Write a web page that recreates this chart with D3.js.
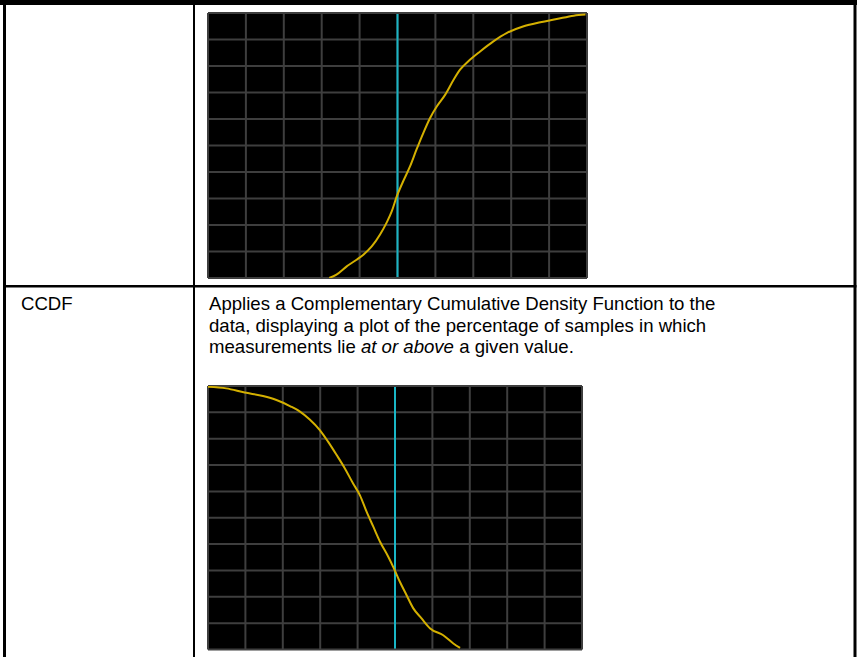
<!DOCTYPE html>
<html><head><meta charset="utf-8">
<script src="https://cdn.jsdelivr.net/npm/d3@7/dist/d3.min.js"></script>
<style>html,body{margin:0;padding:0;background:#fff;overflow:hidden}svg{display:block}</style>
</head><body>
<script>
// ---- data ----
const gridTicks = [0,1,2,3,4,5,6,7,8,9,10];
const markerX = 5;
const cdfX = [3.2,3.39,3.66,3.92,4.1,4.32,4.54,4.71,4.85,4.98,5.15,5.33,5.5,5.68,5.86,6.04,6.26,6.48,6.65,6.87,7.18,7.53,7.89,8.33,8.77,9.2,9.65,9.96];
const cdfY = [0,0.13,0.44,0.69,0.88,1.19,1.64,2.08,2.52,3.08,3.65,4.21,4.84,5.47,6.04,6.48,6.92,7.48,7.86,8.18,8.55,8.93,9.25,9.5,9.65,9.77,9.9,9.94];
const ccdfX = [0,0.49,0.98,1.47,1.83,2.19,2.46,2.72,2.99,3.21,3.44,3.66,3.88,4.06,4.24,4.42,4.6,4.82,4.97,5.13,5.31,5.49,5.71,5.94,6.29,6.56,6.74];
const ccdfY = [9.97,9.91,9.75,9.62,9.47,9.24,9.03,8.73,8.33,7.89,7.38,6.87,6.3,5.86,5.23,4.66,4.09,3.52,3.08,2.57,2.06,1.56,1.18,0.8,0.54,0.23,0.06];
const rowLabels = ["", "CCDF"];
const descLine1 = "Applies a Complementary Cumulative Density Function to the";
const descLine2 = "data, displaying a plot of the percentage of samples in which";
const descLine3 = [["measurements lie ", false], ["at or above", true], [" a given value.", false]];

// ---- drawing ----
const W = 859, H = 657;
const svg = d3.select("body").append("svg").attr("width", W).attr("height", H);
svg.append("rect").attr("width", W).attr("height", H).attr("fill", "#fff");

const FONT = "Arial, 'Liberation Sans', sans-serif";
const FS = 18.6;

function panel(box, xs, ys, id) {
  const x = d3.scaleLinear().domain([0, 10]).range([box.x0, box.x1]);
  const y = d3.scaleLinear().domain([0, 10]).range([box.y1, box.y0]);
  const g = svg.append("g");
  g.append("rect").attr("x", box.x0).attr("y", box.y0)
    .attr("width", box.x1 - box.x0).attr("height", box.y1 - box.y0).attr("fill", "#000");
  g.selectAll(".v").data(gridTicks).join("line")
    .attr("x1", d => x(d)).attr("x2", d => x(d)).attr("y1", box.y0).attr("y2", box.y1)
    .attr("stroke", "#3e3e3e").attr("stroke-width", 2);
  g.selectAll(".h").data(gridTicks).join("line")
    .attr("y1", d => y(d)).attr("y2", d => y(d)).attr("x1", box.x0).attr("x2", box.x1)
    .attr("stroke", "#3e3e3e").attr("stroke-width", 2);
  g.append("line").attr("x1", x(markerX)).attr("x2", x(markerX))
    .attr("y1", box.y0 + 1).attr("y2", box.y1 - 1)
    .attr("stroke", "#19b5c5").attr("stroke-width", 2);
  svg.append("clipPath").attr("id", id).append("rect")
    .attr("x", box.x0).attr("y", box.y0).attr("width", box.x1 - box.x0).attr("height", box.y1 - box.y0);
  const pts = xs.map((v, i) => [v, ys[i]]);
  g.append("path").datum(pts)
    .attr("d", d3.line().x(d => x(d[0])).y(d => y(d[1])).curve(d3.curveMonotoneX))
    .attr("fill", "none").attr("stroke", "#d4b000").attr("stroke-width", 2)
    .attr("clip-path", `url(#${id})`);
}

panel({x0: 208, x1: 587, y0: 13, y1: 278}, cdfX, cdfY, "c1");
panel({x0: 208, x1: 582, y0: 386, y1: 649.5}, ccdfX, ccdfY, "c2");

// table borders
const blk = "#000";
svg.append("rect").attr("x", 0).attr("y", 0).attr("width", 857).attr("height", 5).attr("fill", blk);
svg.append("rect").attr("x", 3).attr("y", 0).attr("width", 3).attr("height", H).attr("fill", blk);
svg.append("rect").attr("x", 193).attr("y", 0).attr("width", 2).attr("height", H).attr("fill", blk);
svg.append("rect").attr("x", 853.5).attr("y", 0).attr("width", 3).attr("height", H).attr("fill", blk);
svg.append("rect").attr("x", 3).attr("y", 285).attr("width", 853.5).attr("height", 2.5).attr("fill", blk);

// text
svg.append("text").attr("x", 21).attr("y", 310).attr("font-family", FONT).attr("font-size", FS)
  .attr("fill", "#000").text(rowLabels[1]);
svg.append("text").attr("x", 209).attr("y", 310).attr("font-family", FONT).attr("font-size", FS)
  .attr("fill", "#000").text(descLine1);
svg.append("text").attr("x", 209).attr("y", 331.5).attr("font-family", FONT).attr("font-size", FS)
  .attr("fill", "#000").text(descLine2);
const t3 = svg.append("text").attr("x", 209).attr("y", 353).attr("font-family", FONT).attr("font-size", FS)
  .attr("fill", "#000");
descLine3.forEach(([s, it]) => t3.append("tspan").attr("font-style", it ? "italic" : "normal").text(s));
</script>
</body></html>
